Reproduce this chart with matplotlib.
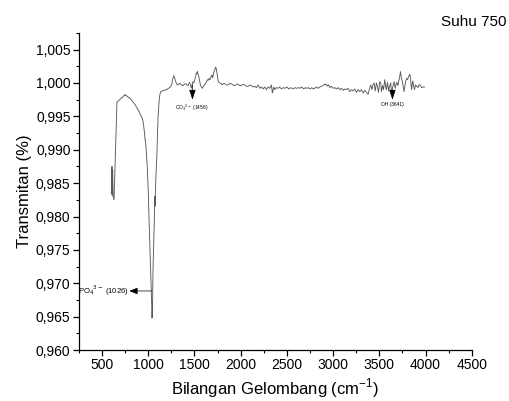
import matplotlib
matplotlib.use("Agg")
import matplotlib.pyplot as plt
from matplotlib.ticker import MultipleLocator

plt.rcParams['font.family'] = ['Liberation Sans', 'DejaVu Sans']

# ---- data ----
wavenumber = [601, 608, 610, 615, 620, 630, 662, 675, 691, 705, 720, 730, 740, 745, 752, 760, 770, 780, 790,
              800, 815, 830, 845, 860, 872, 880, 890, 900, 915, 926, 935, 945, 954, 960, 965, 969, 975, 982,
              990, 1000, 1008, 1018, 1027, 1035, 1041, 1046, 1052, 1060, 1066, 1070, 1073, 1077, 1083, 1090,
              1095, 1100, 1106, 1112, 1117, 1125, 1135, 1150, 1170, 1196, 1220, 1240, 1255, 1265, 1276, 1285,
              1297, 1310, 1322, 1335, 1347, 1360, 1376, 1390, 1405, 1418, 1430, 1440, 1449, 1458, 1467, 1475,
              1484, 1493, 1502, 1512, 1521, 1527, 1532, 1538, 1546, 1555, 1564, 1575, 1586, 1595, 1604, 1613,
              1622, 1631, 1640, 1648, 1658, 1665, 1673, 1680, 1690, 1696, 1701, 1706, 1712, 1720, 1730, 1737,
              1744, 1752, 1759, 1775, 1791, 1800, 1810, 1827, 1845, 1863, 1880, 1899, 1915, 1936, 1955, 1972,
              1990, 2008, 2025, 2044, 2062, 2080, 2098, 2116, 2134, 2152, 2170, 2188, 2206, 2224, 2242, 2260,
              2278, 2296, 2314, 2332, 2343, 2357, 2368, 2385, 2405, 2420, 2440, 2460, 2480, 2500, 2520, 2540,
              2566, 2585, 2605, 2625, 2639, 2660, 2680, 2700, 2711, 2730, 2750, 2770, 2783, 2800, 2820, 2837,
              2855, 2873, 2890, 2909, 2918, 2927, 2940, 2950, 2965, 2980, 3000, 3018, 3036, 3054, 3072, 3090,
              3108, 3126, 3144, 3162, 3180, 3198, 3216, 3234, 3252, 3270, 3288, 3306, 3324, 3342, 3360, 3378,
              3390, 3407, 3420, 3432, 3443, 3455, 3468, 3479, 3490, 3504, 3515, 3522, 3535, 3545, 3558, 3567,
              3576, 3587, 3600, 3612, 3623, 3631, 3645, 3659, 3670, 3680, 3688, 3700, 3713, 3720, 3728, 3737,
              3745, 3756, 3767, 3778, 3787, 3796, 3805, 3812, 3821, 3830, 3840, 3847, 3855, 3862, 3870, 3880,
              3890, 3905, 3918, 3925, 3937, 3950, 3960, 3975, 3990]
transmittance = [0.9835, 0.9875, 0.9832, 0.9870, 0.9830, 0.9825, 0.9972, 0.9973, 0.9975, 0.9977, 0.9978,
                 0.9980, 0.9981, 0.99825, 0.9981, 0.9982, 0.9980, 0.9979, 0.9978, 0.99775, 0.9975, 0.9972,
                 0.9970, 0.9967, 0.9964, 0.9962, 0.9960, 0.9957, 0.9953, 0.9950, 0.9947, 0.9942, 0.9932,
                 0.9925, 0.9915, 0.9915, 0.9905, 0.9890, 0.9873, 0.9840, 0.9798, 0.9755, 0.9717, 0.9680,
                 0.9648, 0.9665, 0.9723, 0.9765, 0.9795, 0.9830, 0.9815, 0.9835, 0.9860, 0.9880, 0.9897,
                 0.9925, 0.9948, 0.9962, 0.9972, 0.9982, 0.9987, 0.9988, 0.9989, 0.9990, 0.9992, 0.9994,
                 0.9998, 1.0006, 1.0011, 1.0008, 1.0002, 0.9998, 0.9997, 0.9999, 0.9999, 0.9997, 0.9996,
                 0.9998, 0.9999, 0.9997, 0.9996, 0.9999, 1.0001, 0.9996, 0.9992, 0.9998, 1.0002, 1.0000,
                 1.0004, 1.0010, 1.0015, 1.0014, 1.0017, 1.0013, 1.0010, 1.0004, 0.9997, 0.9994, 0.9992,
                 0.9995, 0.9996, 0.9998, 1.0000, 1.0002, 1.0005, 1.0004, 1.0007, 1.0005, 1.0006, 1.0010,
                 1.0012, 1.0008, 1.0010, 1.0014, 1.0017, 1.0020, 1.0024, 1.0020, 1.0015, 1.0006, 1.0002,
                 1.0000, 0.9999, 0.9997, 0.9999, 0.9999, 0.9997, 0.9997, 0.9999, 0.9999, 0.9997, 0.9996,
                 0.9998, 0.9998, 0.9996, 0.9996, 0.9998, 0.9997, 0.9995, 0.9995, 0.9997, 0.9996, 0.9994,
                 0.9995, 0.9993, 0.9997, 0.9992, 0.9994, 0.9991, 0.9994, 0.9990, 0.9994, 0.9992, 0.9997,
                 0.9985, 0.9994, 0.9990, 0.9993, 0.9992, 0.9994, 0.9991, 0.9993, 0.9992, 0.9994, 0.9991,
                 0.9993, 0.9991, 0.9993, 0.9992, 0.9993, 0.9992, 0.9994, 0.9991, 0.9993, 0.9992, 0.9993,
                 0.9991, 0.9993, 0.9991, 0.9992, 0.9994, 0.9992, 0.9994, 0.9995, 0.9996, 0.99985, 0.9997,
                 0.9998, 0.9995, 0.9997, 0.9993, 0.9995, 0.9992, 0.9993, 0.9991, 0.9993, 0.9990, 0.9992,
                 0.9989, 0.9991, 0.9990, 0.9992, 0.9987, 0.9990, 0.9988, 0.9991, 0.9986, 0.9990, 0.9987,
                 0.9990, 0.9985, 0.9989, 0.9986, 0.9983, 0.9990, 0.9997, 0.9990, 0.9998, 1.0000, 0.9988,
                 1.0000, 0.9995, 0.9986, 1.0002, 1.0000, 0.9987, 0.9996, 0.9990, 1.0005, 0.9995, 0.9990,
                 1.0001, 0.9988, 0.9996, 1.0000, 0.9985, 0.9995, 1.0002, 0.9992, 0.9998, 1.0001, 0.9996,
                 1.0005, 1.0010, 1.0017, 1.0008, 1.0004, 0.9996, 0.9987, 0.9998, 1.0004, 1.0007, 1.0005,
                 1.0008, 1.0011, 1.0013, 1.0002, 0.9990, 0.9998, 1.0003, 0.9995, 0.9990, 0.9997, 0.9995,
                 0.9993, 0.9997, 0.9997, 0.9995, 0.9993, 0.9994, 0.9994]

x_ticks = [500, 1000, 1500, 2000, 2500, 3000, 3500, 4000, 4500]
y_ticks = [0.960, 0.965, 0.970, 0.975, 0.980, 0.985, 0.990, 0.995, 1.000, 1.005]
y_tick_labels = ["0,960", "0,965", "0,970", "0,975", "0,980", "0,985", "0,990", "0,995", "1,000", "1,005"]

# annotations: peak wavenumbers
po4_peak = 1026
co3_peak = 1478
oh_peak = 3641

fig = plt.figure(figsize=(5.09, 4.01), dpi=100)
ax = fig.add_axes([0.155, 0.127, 0.772, 0.791])

ax.plot(wavenumber, transmittance, color="#5a5a5a", lw=0.65)

ax.set_xlim(250, 4500)
ax.set_ylim(0.960, 1.0075)
ax.set_xticks(x_ticks)
ax.set_yticks(y_ticks)
ax.set_yticklabels(y_tick_labels)
ax.xaxis.set_minor_locator(MultipleLocator(250))
ax.yaxis.set_minor_locator(MultipleLocator(0.0025))

for s in ["top", "right"]:
    ax.spines[s].set_visible(False)
for s in ["left", "bottom"]:
    ax.spines[s].set_linewidth(0.9)

ax.tick_params(which="major", direction="out", length=4, width=0.9, labelsize=10, pad=2)
ax.tick_params(which="minor", direction="out", length=2.5, width=0.8)

ax.set_xlabel("Bilangan Gelombang (cm$^{\\mathregular{-1}}$)", fontsize=12, labelpad=3)
ax.set_ylabel("Transmitan (%)", fontsize=12, labelpad=3)

fig.text(0.995, 0.945, "Suhu 750", ha="right", va="center", fontsize=11)

# PO4 annotation
ax.annotate("", xy=(795, 0.96885), xytext=(1036, 0.96885),
            arrowprops=dict(arrowstyle="-|>,head_length=0.5,head_width=0.2", color="black", lw=0.5,
                            shrinkA=0, shrinkB=0))
ax.text(785, 0.96885, "PO$_4$$^{3-}$ (%d)" % po4_peak, ha="right", va="center", fontsize=5.5)

# CO3 annotation
ax.annotate("", xy=(co3_peak, 0.9975), xytext=(co3_peak, 0.99975),
            arrowprops=dict(arrowstyle="-|>,head_length=0.6,head_width=0.2", color="black", lw=0.5,
                            shrinkA=0, shrinkB=0))
ax.text(co3_peak - 10, 0.99625, "CO$_3$$^{2-}$ (1456)", ha="center", va="center", fontsize=3.5)

# OH annotation
ax.annotate("", xy=(oh_peak, 0.9975), xytext=(oh_peak, 0.9990),
            arrowprops=dict(arrowstyle="-|>,head_length=0.6,head_width=0.2", color="black", lw=0.5,
                            shrinkA=0, shrinkB=0))
ax.text(oh_peak, 0.99675, "OH (%d)" % oh_peak, ha="center", va="center", fontsize=3.5)

fig.savefig("out.png", dpi=100)
